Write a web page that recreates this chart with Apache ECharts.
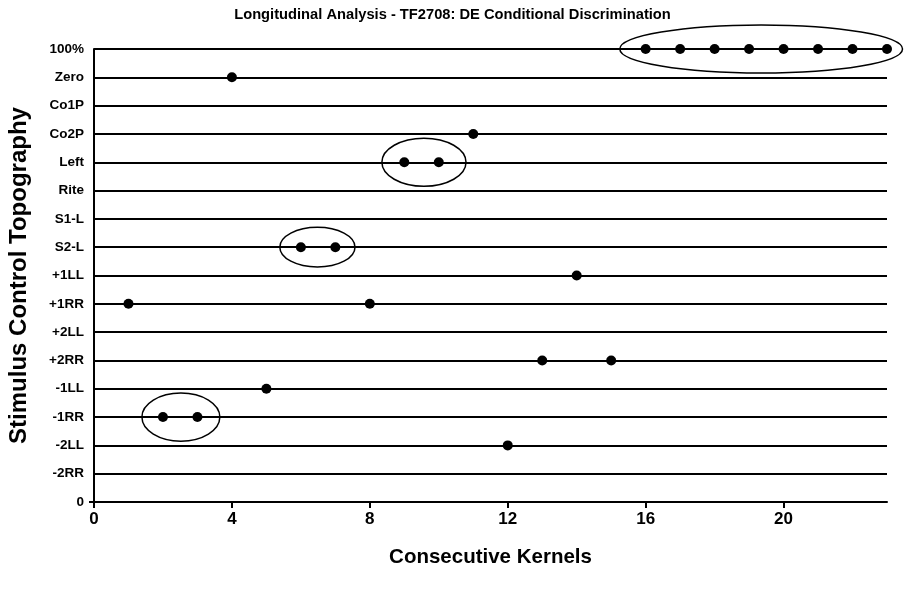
<!DOCTYPE html>
<html>
<head>
<meta charset="utf-8">
<script src="https://cdn.jsdelivr.net/npm/echarts@6/dist/echarts.min.js"></script>
<style>
  html, body { margin: 0; padding: 0; background: #fff; }
  #chart { width: 905px; height: 597px; }
</style>
</head>
<body>
<div id="chart"></div>
<script>
// categories from bottom (0) to top (16)
const rowLabels = ['0', '-2RR', '-2LL', '-1RR', '-1LL', '+2RR', '+2LL', '+1RR', '+1LL',
  'S2-L', 'S1-L', 'Rite', 'Left', 'Co2P', 'Co1P', 'Zero', '100%'];
const xTicks = [0, 4, 8, 12, 16, 20];

// [kernel, row index]
const points = [
  [16, 16], [17, 16], [18, 16], [19, 16], [20, 16], [21, 16], [22, 16], [23, 16],
  [4, 15],
  [11, 13],
  [9, 12], [10, 12],
  [6, 9], [7, 9],
  [14, 8],
  [1, 7], [8, 7],
  [13, 5], [15, 5],
  [5, 4],
  [2, 3], [3, 3],
  [12, 2]
];

// ellipses: [centre x, row, x radius, y radius]
const groups = [
  [19.35, 16, 4.1, 0.85],
  [9.57, 12, 1.22, 0.85],
  [6.48, 9, 1.09, 0.7],
  [2.52, 3, 1.13, 0.85]
];

const chart = echarts.init(document.getElementById('chart'));
const bold = { fontFamily: '"Liberation Sans", Arial, sans-serif', fontWeight: 'bold', color: '#000' };

chart.setOption({
  animation: false,
  title: {
    text: 'Longitudinal Analysis - TF2708: DE Conditional Discrimination',
    left: 'center',
    top: 2,
    textStyle: Object.assign({ fontSize: 14.7 }, bold)
  },
  grid: { left: 94, right: 18, top: 49, bottom: 95, outerBoundsMode: 'none' },
  xAxis: {
    type: 'value',
    min: 0,
    max: 23,
    interval: 4,
    name: 'Consecutive Kernels',
    nameLocation: 'middle',
    nameGap: 45,
    nameTextStyle: Object.assign({ fontSize: 20.5 }, bold),
    axisLine: { lineStyle: { color: '#000', width: 2 } },
    axisTick: { show: true, length: 6, customValues: xTicks, lineStyle: { color: '#000', width: 2 } },
    axisLabel: Object.assign({ fontSize: 17, margin: 9, customValues: xTicks }, bold),
    splitLine: { show: false }
  },
  yAxis: [{
    type: 'value',
    min: 0,
    max: 16,
    interval: 1,
    name: 'Stimulus Control Topography',
    nameLocation: 'middle',
    nameGap: 63,
    nameTextStyle: Object.assign({ fontSize: 24 }, bold),
    axisLine: { show: true, lineStyle: { color: '#000', width: 2 } },
    axisTick: { show: false },
    axisLabel: Object.assign({ fontSize: 13.5, margin: 10,
      formatter: v => rowLabels[v] || '' }, bold),
    splitLine: { show: true, lineStyle: { color: '#000', width: 2 } }
  }, {
    type: 'value',
    position: 'left',
    min: 0,
    max: 16,
    interval: 16,
    axisLine: { show: false },
    axisTick: { show: true, length: 5, customValues: [0], lineStyle: { color: '#000', width: 2 } },
    axisLabel: { show: false },
    splitLine: { show: false }
  }],
  series: [{
    type: 'scatter',
    data: points,
    symbol: 'circle',
    symbolSize: 10,
    itemStyle: { color: '#000', opacity: 1 },
    z: 5
  }, {
    type: 'custom',
    data: groups,
    z: 4,
    renderItem: (params, api) => {
      const c = api.coord([api.value(0), api.value(1)]);
      const s = api.size([api.value(2), api.value(3)]);
      return {
        type: 'ellipse',
        shape: { cx: c[0], cy: c[1], rx: s[0], ry: s[1] },
        style: { fill: 'none', stroke: '#000', lineWidth: 1.5 }
      };
    },
    clip: false
  }]
});
</script>
</body>
</html>
